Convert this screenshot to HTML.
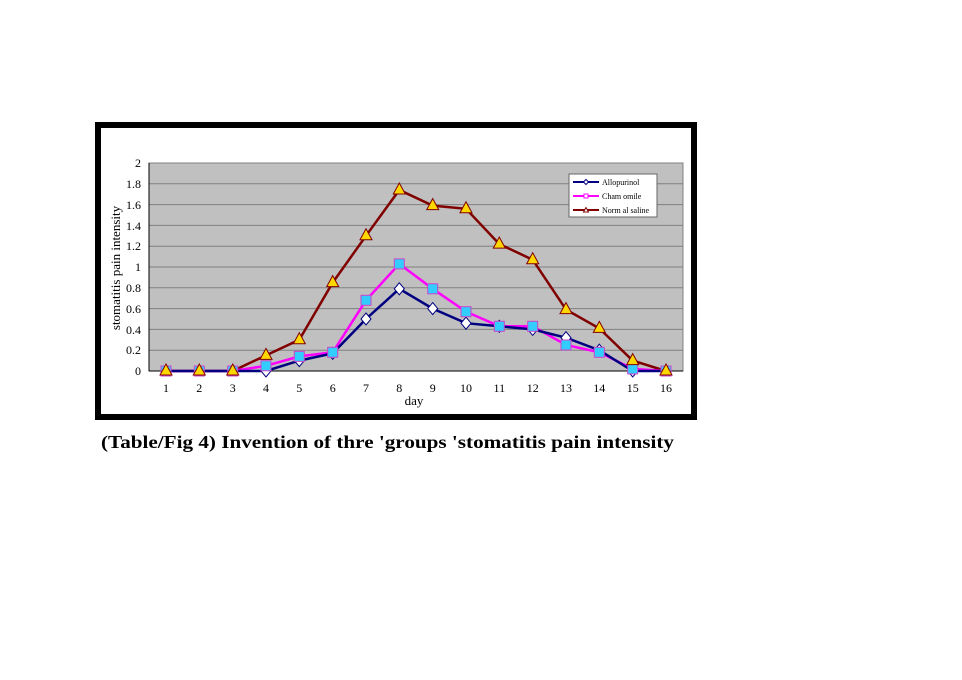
<!DOCTYPE html>
<html><head><meta charset="utf-8"><style>
html,body{margin:0;padding:0;background:#fff;width:962px;height:680px;overflow:hidden}
svg text{font-family:"Liberation Serif",serif}
</style></head><body>
<svg width="962" height="680" viewBox="0 0 962 680" xmlns="http://www.w3.org/2000/svg">
<rect x="98" y="125" width="596" height="292" fill="#fff" stroke="#000" stroke-width="6"/>
<rect x="149" y="163" width="534" height="208" fill="#c0c0c0" stroke="#808080" stroke-width="1"/>
<g stroke="#808080" stroke-width="1">
<line x1="149" y1="183.8" x2="683" y2="183.8"/><line x1="149" y1="204.6" x2="683" y2="204.6"/>
<line x1="149" y1="225.4" x2="683" y2="225.4"/><line x1="149" y1="246.2" x2="683" y2="246.2"/>
<line x1="149" y1="267" x2="683" y2="267"/><line x1="149" y1="287.8" x2="683" y2="287.8"/>
<line x1="149" y1="308.6" x2="683" y2="308.6"/><line x1="149" y1="329.4" x2="683" y2="329.4"/>
<line x1="149" y1="350.2" x2="683" y2="350.2"/>
</g>
<g stroke="#000" stroke-width="1">
<line x1="149" y1="163" x2="149" y2="371"/><line x1="149" y1="371" x2="683" y2="371"/>
</g>
<g font-size="12" text-anchor="end" fill="#000">
<text x="141" y="167">2</text><text x="141" y="188">1.8</text><text x="141" y="209">1.6</text>
<text x="141" y="230">1.4</text><text x="141" y="250">1.2</text><text x="141" y="271">1</text>
<text x="141" y="292">0.8</text><text x="141" y="313">0.6</text><text x="141" y="334">0.4</text>
<text x="141" y="354">0.2</text><text x="141" y="375">0</text>
</g>
<g font-size="12" text-anchor="middle" fill="#000">
<text x="166" y="392">1</text><text x="199.3" y="392">2</text><text x="232.7" y="392">3</text><text x="266" y="392">4</text>
<text x="299.3" y="392">5</text><text x="332.7" y="392">6</text><text x="366" y="392">7</text><text x="399.3" y="392">8</text>
<text x="432.7" y="392">9</text><text x="466" y="392">10</text><text x="499.3" y="392">11</text><text x="532.7" y="392">12</text>
<text x="566" y="392">13</text><text x="599.3" y="392">14</text><text x="632.7" y="392">15</text><text x="666" y="392">16</text>
<text x="414" y="405" font-size="13">day</text>
<text transform="translate(120,268) rotate(-90)" font-size="13">stomatitis pain intensity</text>
</g>
<polyline fill="none" stroke="#800000" stroke-width="2.5" points="166,371 199.3,371 232.7,371 266,355.4 299.3,339.8 332.7,282.6 366,235.8 399.3,190 432.7,205.6 466,208.8 499.3,244.1 532.7,259.7 566,309.6 599.3,328.4 632.7,360.6 666,371"/>
<polyline fill="none" stroke="#ff00ff" stroke-width="2.5" points="166,371 199.3,371 232.7,371 266,365.8 299.3,356.4 332.7,352.3 366,300.3 399.3,263.9 432.7,288.8 466,311.7 499.3,326.3 532.7,326.3 566,345 599.3,352.3 632.7,368.9 666,371"/>
<polyline fill="none" stroke="#000080" stroke-width="2.5" points="166,371 199.3,371 232.7,371 266,371 299.3,360.6 332.7,353.3 366,319 399.3,288.8 432.7,308.6 466,323.2 499.3,326.3 532.7,329.4 566,337.7 599.3,350.2 632.7,371 666,371"/>
<g fill="#fff" stroke="#000080" stroke-width="1">
<path d="M266 365l5 6-5 6-5-6z"/><path d="M299.3 354.6l5 6-5 6-5-6z"/><path d="M332.7 347.3l5 6-5 6-5-6z"/>
<path d="M366 313l5 6-5 6-5-6z"/><path d="M399.3 282.8l5 6-5 6-5-6z"/><path d="M432.7 302.6l5 6-5 6-5-6z"/>
<path d="M466 317.2l5 6-5 6-5-6z"/><path d="M499.3 320.3l5 6-5 6-5-6z"/><path d="M532.7 323.4l5 6-5 6-5-6z"/>
<path d="M566 331.7l5 6-5 6-5-6z"/><path d="M599.3 344.2l5 6-5 6-5-6z"/><path d="M632.7 365l5 6-5 6-5-6z"/>
</g>
<g fill="#33ccff" stroke="#cc44cc" stroke-width="1">
<rect x="161" y="366" width="10" height="10"/><rect x="194.3" y="366" width="10" height="10"/><rect x="227.7" y="366" width="10" height="10"/>
<rect x="261" y="360.8" width="10" height="10"/><rect x="294.3" y="351.4" width="10" height="10"/><rect x="327.7" y="347.3" width="10" height="10"/>
<rect x="361" y="295.3" width="10" height="10"/><rect x="394.3" y="258.9" width="10" height="10"/><rect x="427.7" y="283.8" width="10" height="10"/>
<rect x="461" y="306.7" width="10" height="10"/><rect x="494.3" y="321.3" width="10" height="10"/><rect x="527.7" y="321.3" width="10" height="10"/>
<rect x="561" y="340" width="10" height="10"/><rect x="594.3" y="347.3" width="10" height="10"/><rect x="627.7" y="363.9" width="10" height="10"/>
<rect x="661" y="366" width="10" height="10"/>
</g>
<g fill="#ffd700" stroke="#800000" stroke-width="1">
<path d="M166 364l6 11h-12z"/><path d="M199.3 364l6 11h-12z"/><path d="M232.7 364l6 11h-12z"/>
<path d="M266 348.4l6 11h-12z"/><path d="M299.3 332.8l6 11h-12z"/><path d="M332.7 275.6l6 11h-12z"/>
<path d="M366 228.8l6 11h-12z"/><path d="M399.3 183l6 11h-12z"/><path d="M432.7 198.6l6 11h-12z"/>
<path d="M466 201.8l6 11h-12z"/><path d="M499.3 237.1l6 11h-12z"/><path d="M532.7 252.7l6 11h-12z"/>
<path d="M566 302.6l6 11h-12z"/><path d="M599.3 321.4l6 11h-12z"/><path d="M632.7 353.6l6 11h-12z"/>
<path d="M666 364l6 11h-12z"/>
</g>
<rect x="569" y="174" width="88" height="43" fill="#fff" stroke="#666" stroke-width="1"/>
<line x1="573" y1="182" x2="599" y2="182" stroke="#000080" stroke-width="2"/>
<path d="M586 179.5l2.5 2.5-2.5 2.5-2.5-2.5z" fill="#fff" stroke="#000080"/>
<line x1="573" y1="196" x2="599" y2="196" stroke="#ff00ff" stroke-width="2"/>
<rect x="584" y="194" width="4" height="4" fill="#fff" stroke="#ff00ff"/>
<line x1="573" y1="210" x2="599" y2="210" stroke="#800000" stroke-width="2"/>
<path d="M586 207.5l2.5 4.5h-5z" fill="#fff" stroke="#800000"/>
<g font-size="8" fill="#000">
<text x="602" y="185">Allopurinol</text><text x="602" y="199">Cham omile</text><text x="602" y="213">Norm al saline</text>
</g>
<text x="101" y="448" font-size="17.5" font-weight="bold" fill="#000" textLength="573" lengthAdjust="spacingAndGlyphs">(Table/Fig 4)  Invention of thre 'groups 'stomatitis pain intensity</text>
</svg>
</body></html>
